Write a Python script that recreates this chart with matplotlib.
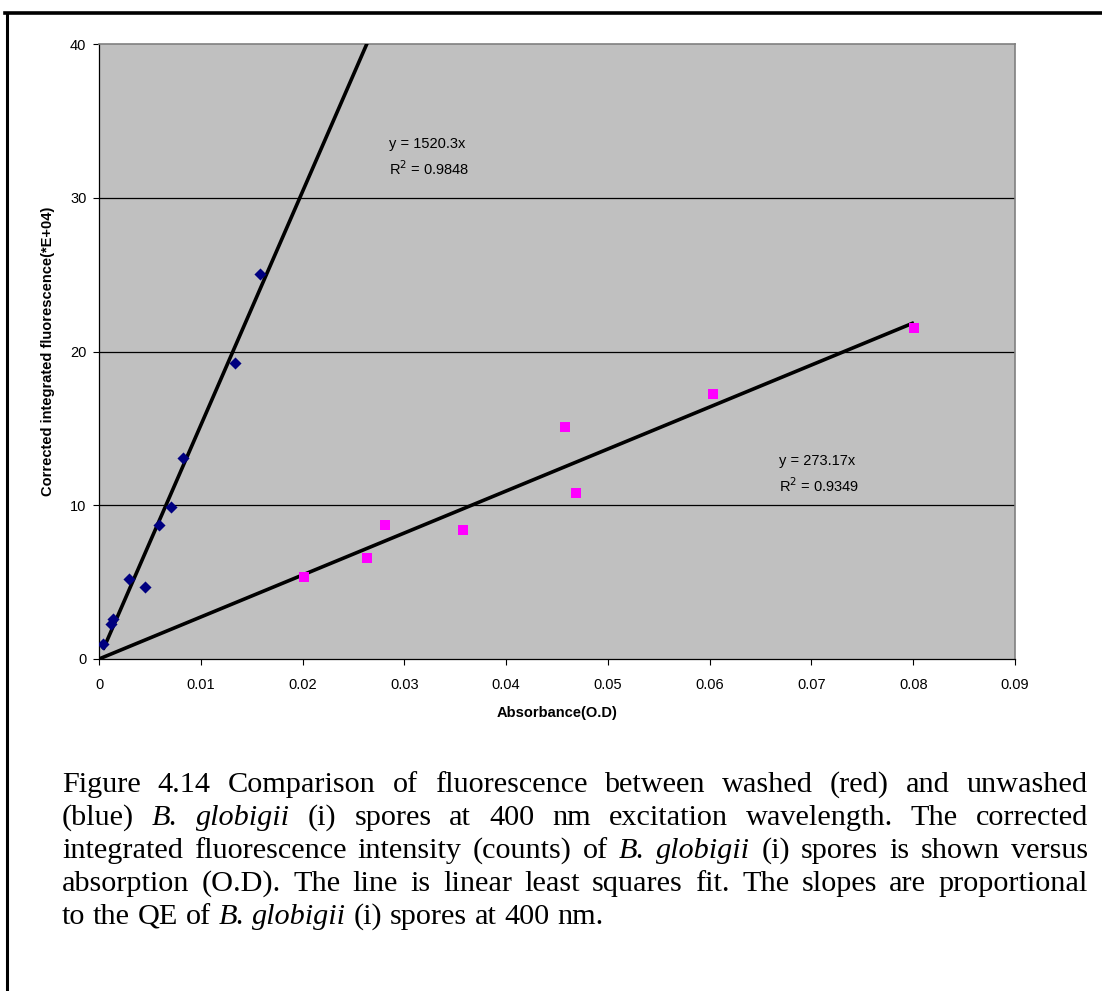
import matplotlib
matplotlib.use("Agg")
import matplotlib.pyplot as plt
from matplotlib.lines import Line2D
import numpy as np

# ---- data ----
blue_x = [0.0004, 0.00115, 0.0014, 0.00295, 0.0045, 0.0059, 0.00704, 0.00825, 0.01336, 0.01582]
blue_y = [1.0, 2.3, 2.6, 5.18, 4.7, 8.7, 9.9, 13.1, 19.25, 25.04]
mag_x = [0.02014, 0.02633, 0.0281, 0.03576, 0.04578, 0.04686, 0.06033, 0.08007]
mag_y = [5.33, 6.57, 8.72, 8.39, 15.09, 10.8, 17.24, 21.53]
slopes = [1520.3, 273.17]
r2 = [0.9848, 0.9349]
x_ticks = [0, 0.01, 0.02, 0.03, 0.04, 0.05, 0.06, 0.07, 0.08, 0.09]
x_tick_labels = ["0", "0.01", "0.02", "0.03", "0.04", "0.05", "0.06", "0.07", "0.08", "0.09"]
y_ticks = [0, 10, 20, 30, 40]
x_label = "Absorbance(O.D)"
y_label = "Corrected integrated fluorescence(*E+04)"
caption_lines = [
    [("Figure", 0), ("4.14", 0), ("Comparison", 0), ("of", 0), ("fluorescence", 0), ("between", 0),
     ("washed", 0), ("(red)", 0), ("and", 0), ("unwashed", 0)],
    [("(blue)", 0), ("B.", 1), ("globigii", 1), ("(i)", 0), ("spores", 0), ("at", 0), ("400", 0), ("nm", 0),
     ("excitation", 0), ("wavelength.", 0), ("The", 0), ("corrected", 0)],
    [("integrated", 0), ("fluorescence", 0), ("intensity", 0), ("(counts)", 0), ("of", 0), ("B.", 1),
     ("globigii", 1), ("(i)", 0), ("spores", 0), ("is", 0), ("shown", 0), ("versus", 0)],
    [("absorption", 0), ("(O.D).", 0), ("The", 0), ("line", 0), ("is", 0), ("linear", 0), ("least", 0),
     ("squares", 0), ("fit.", 0), ("The", 0), ("slopes", 0), ("are", 0), ("proportional", 0)],
    [("to", 0), ("the", 0), ("QE", 0), ("of", 0), ("B.", 1), ("globigii", 1), ("(i)", 0), ("spores", 0),
     ("at", 0), ("400", 0), ("nm.", 0)],
]

W, H = 1102, 991
fig = plt.figure(figsize=(W / 100, H / 100), dpi=100)
plt.rcParams['font.family'] = ['Liberation Sans', 'DejaVu Sans']

ax = fig.add_axes([99 / W, 1 - 659 / H, (1015 - 99) / W, (659 - 44) / H])
ax.set_facecolor("#C0C0C0")
ax.set_xlim(0, 0.09)
ax.set_ylim(0, 40)
ax.set_xticks(x_ticks)
ax.set_xticklabels(x_tick_labels)
ax.set_yticks(y_ticks)
for yv in y_ticks[1:-1]:
    ax.axhline(yv, color="black", lw=0.9, zorder=1)
ax.tick_params(direction="out", length=4, width=0.8, labelsize=10.5, pad=10)
ax.tick_params(axis="y", pad=5)
for s in ["top", "right"]:
    ax.spines[s].set_color("#808080")
    ax.spines[s].set_linewidth(1.2)
for s in ["left", "bottom"]:
    ax.spines[s].set_color("black")
    ax.spines[s].set_linewidth(0.9)

# fit lines
xb = np.array([min(blue_x), 0.03])
ax.plot(xb, slopes[0] * xb, color="black", lw=2.6, zorder=3, solid_capstyle="butt")
xm = np.array([0.0, max(mag_x)])
ax.plot(xm, slopes[1] * xm, color="black", lw=2.6, zorder=3, solid_capstyle="butt")

ax.scatter(blue_x, blue_y, marker="D", s=38, color="#000080", zorder=4, linewidths=0)
ax.scatter(mag_x, mag_y, marker="s", s=62, color="#FF00FF", zorder=4, linewidths=0)

ax.text(0.0285, 33.5, "y = %.1fx" % slopes[0], fontsize=10.5, va="center", ha="left")
ax.text(0.0285, 31.9, "R$^2$ = %.4f" % r2[0], fontsize=10.5, va="center", ha="left")
ax.text(0.0668, 12.9, "y = %.2fx" % slopes[1], fontsize=10.5, va="center", ha="left")
ax.text(0.0668, 11.3, "R$^2$ = %.4f" % r2[1], fontsize=10.5, va="center", ha="left")

ax.set_xlabel(x_label, fontsize=10.5, fontweight="bold", labelpad=10)
ax.set_ylabel(y_label, fontsize=10.5, fontweight="bold", labelpad=11)

# page borders
fig.add_artist(Line2D([5 / W, 1.0], [1 - 13 / H, 1 - 13 / H], color="black", lw=2.6))
fig.add_artist(Line2D([7 / W, 7 / W], [1 - 15 / H, 0.0], color="black", lw=2.2))

# justified caption
fig.canvas.draw()
renderer = fig.canvas.get_renderer()
cap_left, cap_right = 62, 1088
cap_fs = 21.8
line_y0 = 785
line_dy = 33
for li, words in enumerate(caption_lines):
    texts = []
    widths = []
    for w, it in words:
        t = fig.text(0, 0, w, fontsize=cap_fs, family=["Liberation Serif", "DejaVu Serif"],
                     style="italic" if it else "normal", va="center", ha="left")
        bb = t.get_window_extent(renderer)
        texts.append(t)
        widths.append(bb.width)
    total = sum(widths)
    if li < len(caption_lines) - 1:
        gap = (cap_right - cap_left - total) / (len(words) - 1)
    else:
        sp = fig.text(0, 0, "a b", fontsize=cap_fs, family=["Liberation Serif"])
        sp2 = fig.text(0, 0, "ab", fontsize=cap_fs, family=["Liberation Serif"])
        gap = sp.get_window_extent(renderer).width - sp2.get_window_extent(renderer).width
        sp.remove(); sp2.remove()
    x = cap_left
    yy = line_y0 + li * line_dy
    for t, wd in zip(texts, widths):
        t.set_position((x / W, 1 - yy / H))
        x += wd + gap

fig.savefig("out.png", dpi=100)
